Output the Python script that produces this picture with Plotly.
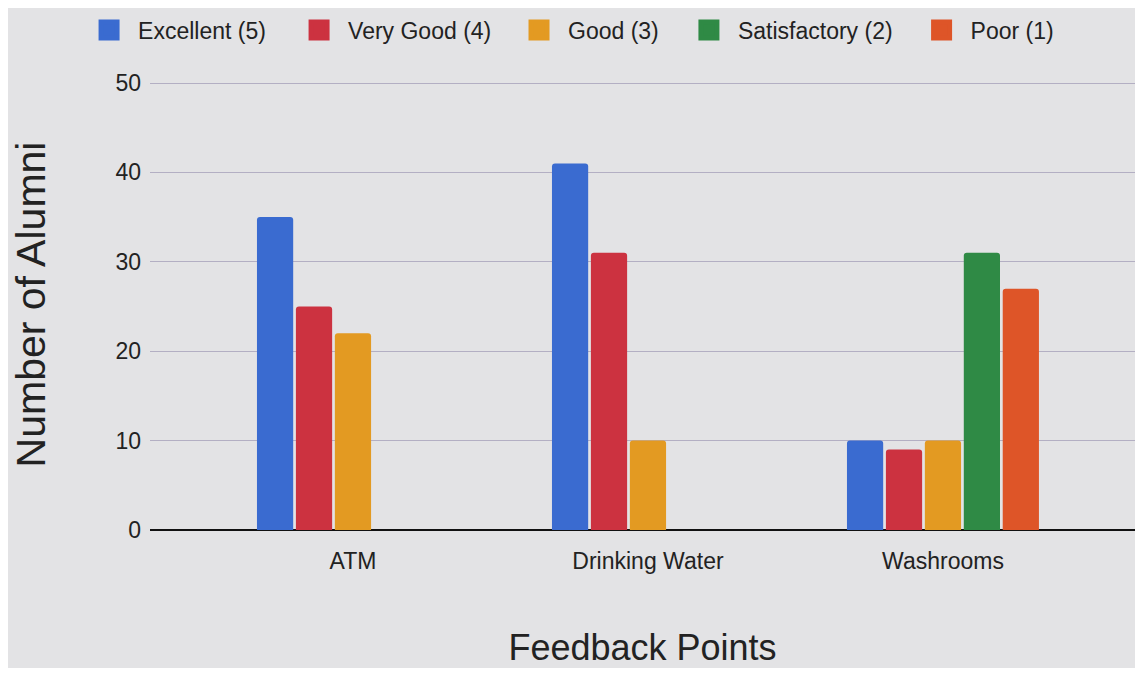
import plotly.graph_objects as go

categories = ["ATM", "Drinking Water", "Washrooms"]
series_names = ["Excellent (5)", "Very Good (4)", "Good (3)", "Satisfactory (2)", "Poor (1)"]
excellent = [35, 41, 10]
very_good = [25, 31, 9]
good = [22, 10, 10]
satisfactory = [0, 0, 31]
poor = [0, 0, 27]
y_ticks = [0, 10, 20, 30, 40, 50]

colors = ["#3a6bd0", "#cc3240", "#e39a22", "#2f8a45", "#de5528"]
values = [excellent, very_good, good, satisfactory, poor]
legend_ids = ["legend", "legend2", "legend3", "legend4", "legend5"]
legend_x = [-0.071, 0.1422, 0.3655, 0.538, 0.7742]

fig = go.Figure()
for name, vals, col in zip(series_names, values, colors):
    fig.add_trace(go.Bar(x=categories, y=vals, name=name, legendgroup=name, showlegend=False,
                         marker=dict(color=col, line=dict(width=0))))
# legend entries with larger square swatches, one legend box per entry
for name, col, lid in zip(series_names, colors, legend_ids):
    fig.add_trace(go.Scatter(x=[None], y=[None], mode="markers", name=name, legendgroup=name, legend=lid,
                             marker=dict(symbol="square", size=16, color=col, line=dict(width=5, color=col))))

bg = "#e3e3e5"
font = "Liberation Sans, Arial, sans-serif"
legend_style = dict(orientation="h", xanchor="left", y=1.1086, yanchor="middle",
                    font=dict(size=23, color="#222222"), bgcolor="rgba(0,0,0,0)",
                    itemsizing="trace", itemwidth=48)
layout_legends = {lid: dict(legend_style, x=lx) for lid, lx in zip(legend_ids, legend_x)}

fig.update_layout(
    width=1127, height=660,
    margin=dict(l=142, r=0, t=71, b=138, autoexpand=False),
    paper_bgcolor=bg, plot_bgcolor=bg,
    barmode="group", bargap=0.34, bargroupgap=0.07,
    barcornerradius=3,
    font=dict(family=font, color="#222222", size=23),
    xaxis=dict(range=[-0.688, 2.651], showgrid=False, ticks="", tickfont=dict(size=23, color="#222222"),
               ticklabelstandoff=15,
               title=dict(text="Feedback Points", font=dict(size=36, color="#222222"), standoff=72),
               showline=False, zeroline=False),
    yaxis=dict(range=[0, 50.45], tickvals=y_ticks, showgrid=True, gridcolor="#b3afc3", gridwidth=1,
               zeroline=True, zerolinecolor="#111111", zerolinewidth=2,
               tickfont=dict(size=23, color="#222222"), ticks="", ticklabelstandoff=8,
               title=dict(text="Number of Alumni", font=dict(size=41, color="#222222"), standoff=80)),
    **layout_legends,
)
fig.write_html("out.html")
